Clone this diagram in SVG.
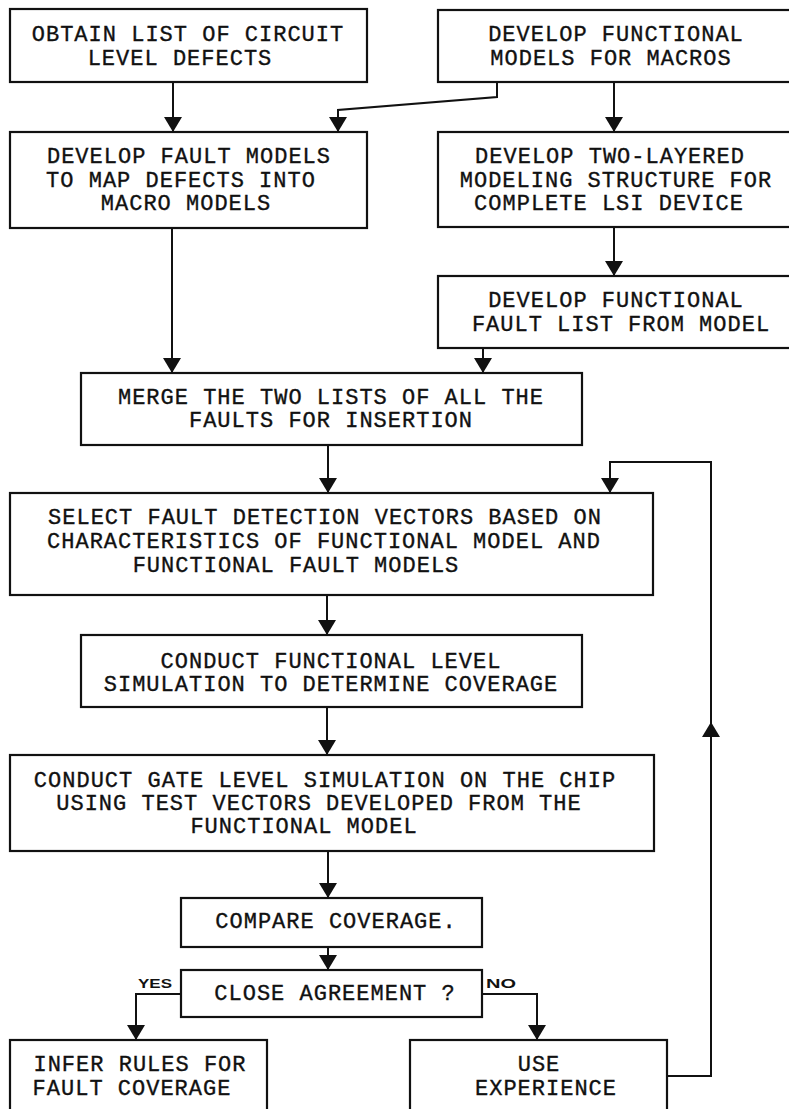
<svg xmlns="http://www.w3.org/2000/svg" width="789" height="1109" viewBox="0 0 789 1109">
<style>
.box{fill:#fff;stroke:#111;stroke-width:2.2}
.t{font-family:"Liberation Mono","DejaVu Sans Mono",monospace;font-size:22px;letter-spacing:1px;fill:#111;stroke:#111;stroke-width:0.35;text-anchor:middle}
.lbl{font-family:"Liberation Sans","DejaVu Sans",sans-serif;font-size:13px;font-weight:bold;fill:#111}
.c{fill:none;stroke:#111;stroke-width:2;marker-end:url(#ah)}
</style>
<defs>
<marker id="ah" markerUnits="userSpaceOnUse" viewBox="0 0 15 18" markerWidth="15" markerHeight="18" refX="15" refY="9" orient="auto">
<path d="M0,0 L15,9 L0,18 Z" fill="#111"/>
</marker>
</defs>
<rect width="789" height="1109" fill="#fff"/>
<g id="connectors">
<path class="c" d="M173,82 V132"/>
<path class="c" d="M497,82 V97 L338,110 V132"/>
<path class="c" d="M614,82 V132"/>
<path class="c" d="M614,227 V276"/>
<path class="c" d="M172,228 V373"/>
<path class="c" d="M483,348 V373"/>
<path class="c" d="M328,445 V493"/>
<path class="c" d="M327,595 V635"/>
<path class="c" d="M327,707 V755"/>
<path class="c" d="M328,851 V898"/>
<path class="c" d="M328,947 V970"/>
<path class="c" d="M181,994 H136 V1040"/>
<path class="c" d="M482,994 H537 V1040"/>
<path class="c" d="M667,1076 H711 V722"/>
<path class="c" d="M711,722 V462 H610 V493"/>
<text class="lbl" x="138" y="988" textLength="34" lengthAdjust="spacingAndGlyphs">YES</text>
<text class="lbl" x="486" y="988" textLength="30" lengthAdjust="spacingAndGlyphs">NO</text>
</g>
<g id="n1">
<rect class="box" x="10" y="9" width="357" height="73"/>
<text class="t" x="188" y="41">OBTAIN LIST OF CIRCUIT</text>
<text class="t" x="180" y="65">LEVEL DEFECTS</text>
</g>
<g id="n2">
<rect class="box" x="438" y="10" width="360" height="72"/>
<text class="t" x="616" y="41">DEVELOP FUNCTIONAL</text>
<text class="t" x="611" y="65">MODELS FOR MACROS</text>
</g>
<g id="n3">
<rect class="box" x="10" y="132" width="357" height="96"/>
<text class="t" x="189" y="163">DEVELOP FAULT MODELS</text>
<text class="t" x="181" y="187">TO MAP DEFECTS INTO</text>
<text class="t" x="186" y="210">MACRO MODELS</text>
</g>
<g id="n4">
<rect class="box" x="438" y="132" width="360" height="95"/>
<text class="t" x="610" y="163">DEVELOP TWO-LAYERED</text>
<text class="t" x="616" y="187">MODELING STRUCTURE FOR</text>
<text class="t" x="609" y="210">COMPLETE LSI DEVICE</text>
</g>
<g id="n5">
<rect class="box" x="438" y="276" width="360" height="72"/>
<text class="t" x="616" y="307">DEVELOP FUNCTIONAL</text>
<text class="t" x="621" y="331">FAULT LIST FROM MODEL</text>
</g>
<g id="n6">
<rect class="box" x="81" y="373" width="501" height="72"/>
<text class="t" x="331" y="404">MERGE THE TWO LISTS OF ALL THE</text>
<text class="t" x="331" y="427">FAULTS FOR INSERTION</text>
</g>
<g id="n7">
<rect class="box" x="10" y="493" width="643" height="102"/>
<text class="t" x="325" y="524">SELECT FAULT DETECTION VECTORS BASED ON</text>
<text class="t" x="324" y="548">CHARACTERISTICS OF FUNCTIONAL MODEL AND</text>
<text class="t" x="296" y="572">FUNCTIONAL FAULT MODELS</text>
</g>
<g id="n8">
<rect class="box" x="81" y="635" width="501" height="72"/>
<text class="t" x="331" y="668">CONDUCT FUNCTIONAL LEVEL</text>
<text class="t" x="331" y="691">SIMULATION TO DETERMINE COVERAGE</text>
</g>
<g id="n9">
<rect class="box" x="10" y="755" width="644" height="96"/>
<text class="t" x="325" y="787">CONDUCT GATE LEVEL SIMULATION ON THE CHIP</text>
<text class="t" x="319" y="810">USING TEST VECTORS DEVELOPED FROM THE</text>
<text class="t" x="304" y="833">FUNCTIONAL MODEL</text>
</g>
<g id="n10">
<rect class="box" x="181" y="898" width="301" height="49"/>
<text class="t" x="336" y="928">COMPARE COVERAGE.</text>
</g>
<g id="n11">
<rect class="box" x="181" y="970" width="301" height="47"/>
<text class="t" x="335" y="1000">CLOSE AGREEMENT ?</text>
</g>
<g id="n12">
<rect class="box" x="10" y="1040" width="257" height="72"/>
<text class="t" x="140" y="1071">INFER RULES FOR</text>
<text class="t" x="132" y="1095">FAULT COVERAGE</text>
</g>
<g id="n13">
<rect class="box" x="410" y="1040" width="257" height="72"/>
<text class="t" x="539" y="1071">USE</text>
<text class="t" x="546" y="1095">EXPERIENCE</text>
</g>
</svg>
